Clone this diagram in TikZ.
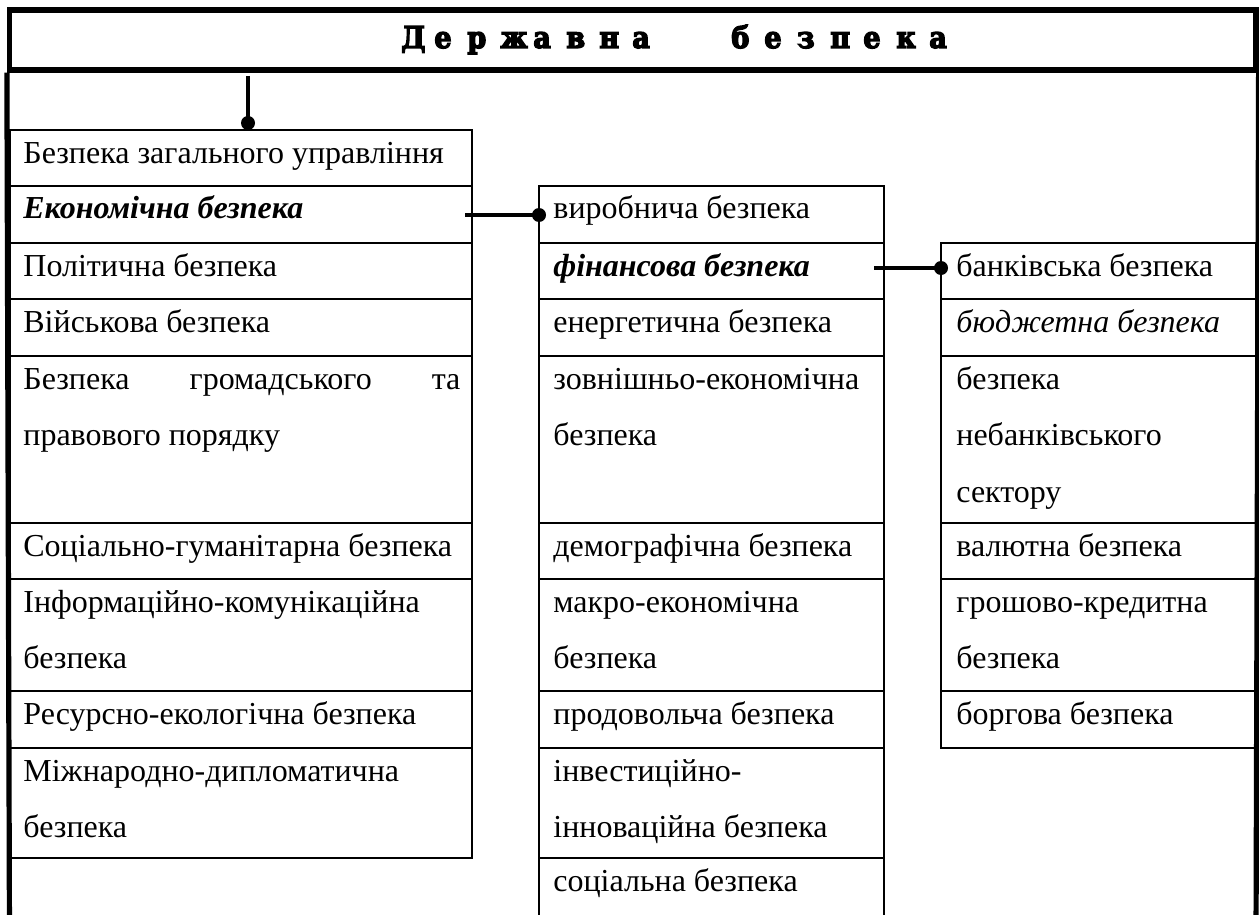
\documentclass[tikz,border=0pt]{standalone}
\usepackage{fontspec}
\setmainfont{Liberation Serif}
\newfontfamily\titlefont{DejaVu Serif Condensed Bold}[FakeBold=4.5]
\usetikzlibrary{fit}
\newcommand\LB[1]{\makebox[16.5pt][l]{#1}}
\begin{document}
\begin{tikzpicture}[x=0.5pt,y=-0.5pt,
  frameline/.style={line width=2.6pt},
  cell/.style={draw, line width=1pt, rectangle, inner sep=0pt},
  txt/.style={anchor=base west, inner sep=0pt, font=\fontsize{16}{16}\selectfont},
  ttl/.style={anchor=base west, inner sep=0pt, font=\titlefont\fontsize{15}{16}\selectfont},
  conn/.style={line width=2.2pt},
  dotnode/.style={circle, fill=black, inner sep=0pt, minimum size=7pt}]
\useasboundingbox (0,0) rectangle (1259,915);
\clip (0,0) rectangle (1259,915);
% frame and title
\node[draw, line width=2.6pt, inner sep=0pt, fit={(9.5,10)(1256,70)}] (titlebox) {};
\coordinate (fl) at (9.5,940);
\coordinate (fr) at (1256,940);
\node[ttl] (t1) at (401,48) {\LB{Д}\LB{е}\LB{р}\LB{ж}\LB{а}\LB{в}\LB{н}\LB{а}};
\node[ttl] (t2) at (731,48) {\LB{б}\LB{е}\LB{з}\LB{п}\LB{е}\LB{к}\LB{а}};
% left column
\node[cell, fit={(10,130)(472,186)}] (L1) {};
\node[cell, fit={(10,186)(472,243)}] (L2) {};
\node[cell, fit={(10,243)(472,299)}] (L3) {};
\node[cell, fit={(10,299)(472,356)}] (L4) {};
\node[cell, fit={(10,356)(472,523)}] (L5) {};
\node[cell, fit={(10,523)(472,579)}] (L6) {};
\node[cell, fit={(10,579)(472,691)}] (L7) {};
\node[cell, fit={(10,691)(472,748)}] (L8) {};
\node[cell, fit={(10,748)(472,858)}] (L9) {};
\node[txt] (l1) at (23,163) {Безпека загального управління};
\node[txt] (l2) at (23,219) {\bfseries\itshape Економічна безпека};
\node[txt] (l3) at (23,276) {Політична безпека};
\node[txt] (l4) at (23,332) {Військова безпека};
\node[txt] (l5a) at (23,389) {\makebox[218.5pt][s]{Безпека\hfill громадського\hfill та}};
\node[txt] (l5b) at (23,445) {правового порядку};
\node[txt] (l6) at (23,556) {Соціально-гуманітарна безпека};
\node[txt] (l7a) at (23,612) {Інформаційно-комунікаційна};
\node[txt] (l7b) at (23,668) {безпека};
\node[txt] (l8) at (23,724) {Ресурсно-екологічна безпека};
\node[txt] (l9a) at (23,781) {Міжнародно-дипломатична};
\node[txt] (l9b) at (23,837) {безпека};
% middle column
\node[cell, fit={(539,186)(884,243)}] (M1) {};
\node[cell, fit={(539,243)(884,299)}] (M2) {};
\node[cell, fit={(539,299)(884,356)}] (M3) {};
\node[cell, fit={(539,356)(884,523)}] (M4) {};
\node[cell, fit={(539,523)(884,579)}] (M5) {};
\node[cell, fit={(539,579)(884,691)}] (M6) {};
\node[cell, fit={(539,691)(884,748)}] (M7) {};
\node[cell, fit={(539,748)(884,858)}] (M8) {};
\node[cell, fit={(539,858)(884,940)}] (M9) {};
\node[txt] (m1) at (553,219) {виробнича безпека};
\node[txt] (m2) at (553,276) {\bfseries\itshape фінансова безпека};
\node[txt] (m3) at (553,332) {енергетична безпека};
\node[txt] (m4a) at (553,389) {зовнішньо-економічна};
\node[txt] (m4b) at (553,445) {безпека};
\node[txt] (m5) at (553,556) {демографічна безпека};
\node[txt] (m6a) at (553,612) {макро-економічна};
\node[txt] (m6b) at (553,668) {безпека};
\node[txt] (m7) at (553,724) {продовольча безпека};
\node[txt] (m8a) at (553,781) {інвестиційно-};
\node[txt] (m8b) at (553,837) {інноваційна безпека};
\node[txt] (m9) at (553,891) {соціальна безпека};
% right column
\node[cell, fit={(941,243)(1256,299)}] (R1) {};
\node[cell, fit={(941,299)(1256,356)}] (R2) {};
\node[cell, fit={(941,356)(1256,523)}] (R3) {};
\node[cell, fit={(941,523)(1256,579)}] (R4) {};
\node[cell, fit={(941,579)(1256,691)}] (R5) {};
\node[cell, fit={(941,691)(1256,748)}] (R6) {};
\node[txt] (r1) at (956,276) {банківська безпека};
\node[txt] (r2) at (956,332) {\itshape бюджетна безпека};
\node[txt] (r3a) at (956,389) {безпека};
\node[txt] (r3b) at (956,445) {небанківського};
\node[txt] (r3c) at (956,502) {сектору};
\node[txt] (r4) at (956,556) {валютна безпека};
\node[txt] (r5a) at (956,612) {грошово-кредитна};
\node[txt] (r5b) at (956,668) {безпека};
\node[txt] (r6) at (956,724) {боргова безпека};
% connectors
\coordinate (c1) at (248,76);
\node[dotnode] (d1) at (248,123) {};
\draw[conn] (c1) -- (d1.center);
\coordinate (c2) at (465,215);
\node[dotnode] (d2) at (539,215) {};
\draw[conn] (c2) -- (d2.center);
\coordinate (c3) at (874,268);
\node[dotnode] (d3) at (941,268) {};
\draw[conn] (c3) -- (d3.center);
% outer frame sides
\draw[frameline] (titlebox.south west) -- (fl);
\draw[frameline] (titlebox.south east) -- (fr);
\end{tikzpicture}
\end{document}
